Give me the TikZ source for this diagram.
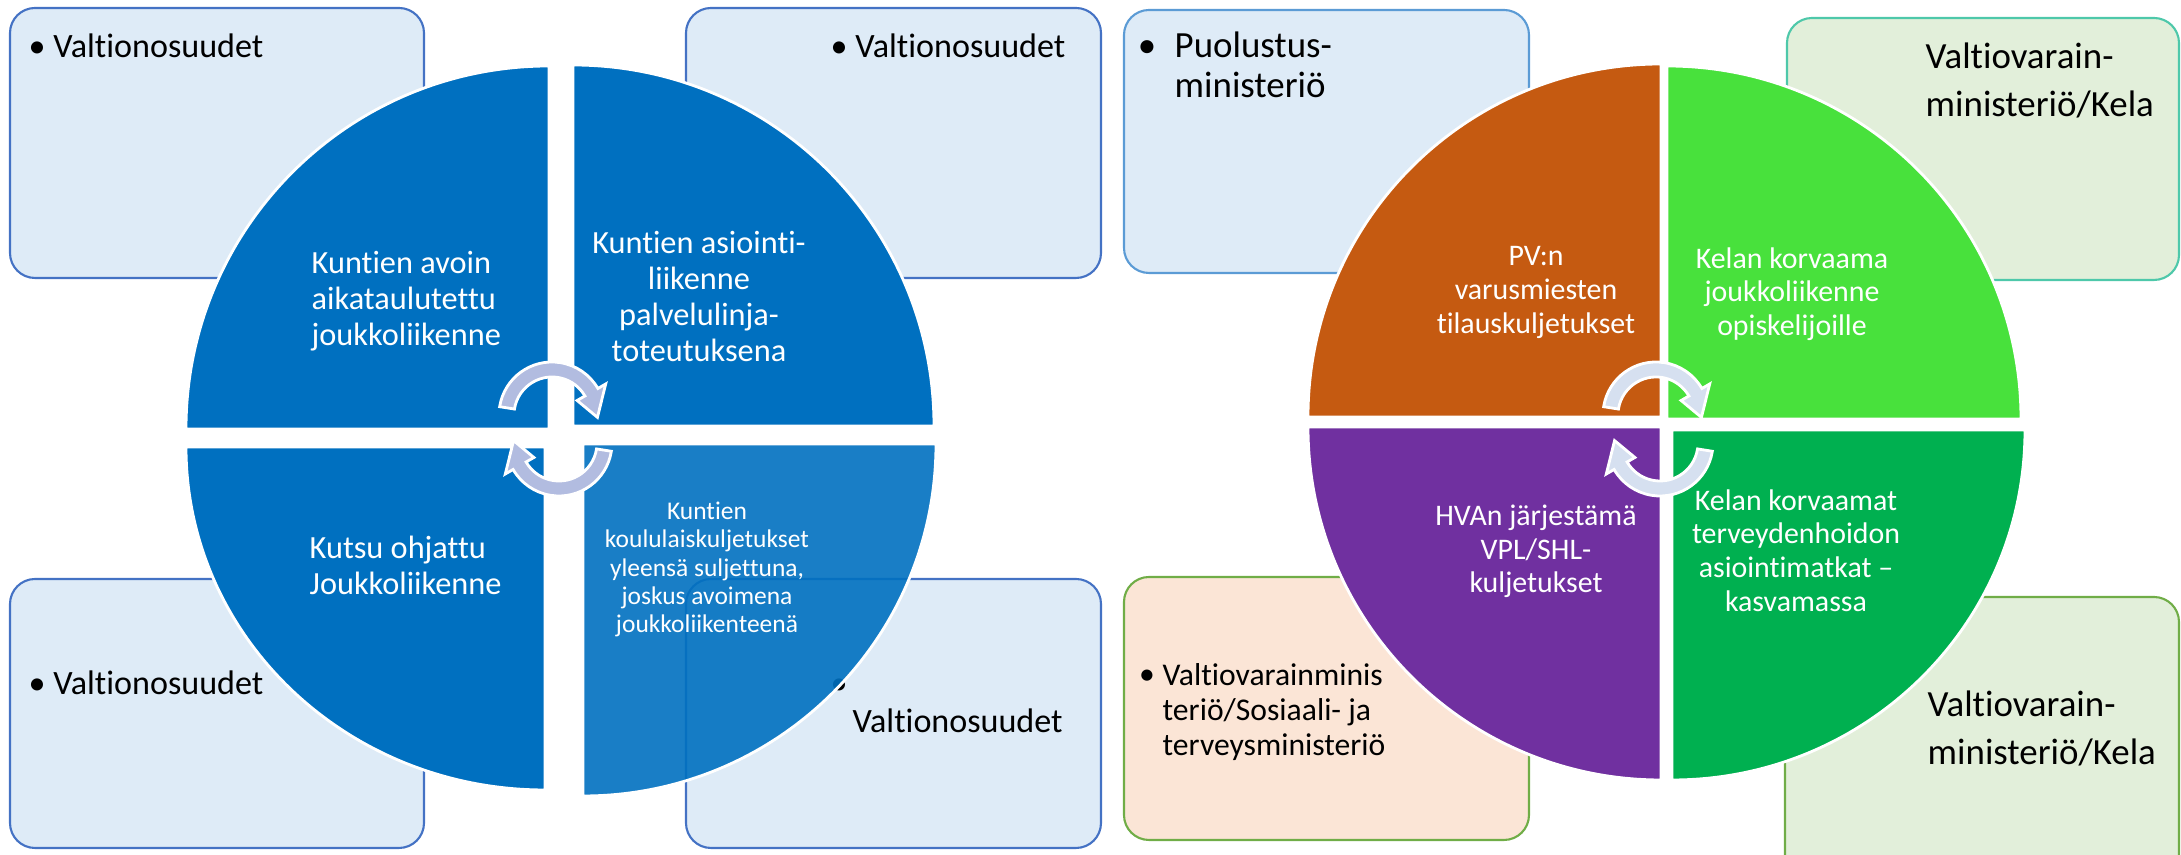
\documentclass[tikz,border=0pt]{standalone}
\usepackage{fontspec}
\setmainfont{Carlito}[Ligatures=NoCommon]

\tikzset{
  box/.style={rounded corners=0.25cm, line width=0.6pt},
  quad/.style={draw=white, line width=0.8pt},
  boxtext/.style={inner sep=0pt, font=\fontsize{9.7pt}{11pt}\selectfont},
  bigtext/.style={inner sep=0pt, align=left, font=\fontsize{10.5pt}{13.7pt}\selectfont},
  quadtext/.style={inner sep=0pt, text=white, align=center, font=\fontsize{8.5pt}{9.6pt}\selectfont},
  pics/turn/.style={code={
    \filldraw[fill=#1, draw=white, line width=0.8pt]
      (171:0.53) arc (171:30:0.53) -- (30:0.62) -- (-3:0.455) -- (30:0.29)
      -- (30:0.38) arc (30:171:0.38) -- cycle;
  }}
}

\begin{document}
\begin{tikzpicture}

% Define colors
\definecolor{boxblue}{RGB}{222,235,247}
\definecolor{edgeblue}{RGB}{68,114,196}
\definecolor{edgesky}{RGB}{91,155,213}
\definecolor{boxgreen}{RGB}{226,239,218}
\definecolor{edgeteal}{RGB}{78,200,170}
\definecolor{edgegreen}{RGB}{112,173,71}
\definecolor{boxpeach}{RGB}{251,229,214}
\definecolor{quadblue}{RGB}{0,112,192}
\definecolor{quadorange}{RGB}{197,90,17}
\definecolor{quadlime}{RGB}{72,225,60}
\definecolor{quadpurple}{RGB}{112,48,160}
\definecolor{quadgreen}{RGB}{0,176,80}
\definecolor{arrowblue}{RGB}{178,188,224}
\definecolor{arrowpale}{RGB}{214,224,240}

\useasboundingbox (0,0) rectangle (21.81,8.55);

% Boxes behind the left circle
\draw[box, fill=boxblue, draw=edgeblue] (0.10,5.77) rectangle (4.24,8.47);
\draw[box, fill=boxblue, draw=edgeblue] (6.86,5.77) rectangle (11.01,8.47);
\draw[box, fill=boxblue, draw=edgeblue] (0.10,0.07) rectangle (4.24,2.76);
\draw[box, fill=boxblue, draw=edgeblue] (6.86,0.07) rectangle (11.01,2.76);

% Boxes behind the right circle
\draw[box, fill=boxblue, draw=edgesky] (11.24,5.82) rectangle (15.29,8.45);
\draw[box, fill=boxgreen, draw=edgeteal] (17.87,5.75) rectangle (21.79,8.37);
\draw[box, fill=boxpeach, draw=edgegreen] (11.24,0.15) rectangle (15.29,2.78);
\draw[box, fill=boxgreen, draw=edgegreen] (17.85,-0.40) rectangle (21.79,2.58);

% Box texts
\node[boxtext, anchor=base west] (vos1) at (0.28,7.97) {•~Valtionosuudet};
\node[boxtext, anchor=base west] (vos2) at (8.30,7.97) {•~Valtionosuudet};
\node[boxtext, anchor=base west] (vos3) at (0.28,1.60) {•~Valtionosuudet};
\node[boxtext, anchor=base west] (dot4) at (8.30,1.60) {•};
\node[boxtext, anchor=base west] (vos4) at (8.52,1.22) {Valtionosuudet};

\node[bigtext, anchor=base] (dotpm) at (11.47,7.97) {•};
\node[bigtext, anchor=west, font=\fontsize{10.5pt}{11.4pt}\selectfont] (pm) at (11.74,7.90) {Puolustus-\\ministeriö};
\node[bigtext, anchor=west] (vmk1) at (19.25,7.745) {Valtiovarain-\\ministeriö/Kela};
\node[bigtext, anchor=west] (vmk2) at (19.27,1.265) {Valtiovarain-\\ministeriö/Kela};
\node[bigtext, anchor=base, font=\fontsize{9pt}{10pt}\selectfont] (dotst) at (11.47,1.70) {•};
\node[bigtext, anchor=west, font=\fontsize{9pt}{10pt}\selectfont] (stm) at (11.62,1.43) {Valtiovarainminis\\teriö/Sosiaali- ja\\terveysministeriö};

% Left circle
\filldraw[quad, fill=quadblue] (5.49,4.26) -- (1.86,4.26) arc (180:90:3.63) -- cycle;
\filldraw[quad, fill=quadblue] (5.73,4.29) -- (5.73,7.90) arc (90:0:3.61) -- cycle;
\filldraw[quad, fill=quadblue] (5.45,4.08) -- (1.86,4.08) arc (180:270:3.59 and 3.43) -- cycle;
\filldraw[quad, fill=quadblue, fill opacity=0.9] (5.83,4.11) -- (9.36,4.11) arc (0:-90:3.53 and 3.52) -- cycle;

% Right circle
\filldraw[quad, fill=quadorange] (16.61,4.38) -- (13.08,4.38) arc (180:90:3.53) -- cycle;
\filldraw[quad, fill=quadlime] (16.67,4.36) -- (16.67,7.89) arc (90:0:3.54 and 3.53) -- cycle;
\filldraw[quad, fill=quadpurple] (16.61,4.28) -- (13.08,4.28) arc (180:270:3.53) -- cycle;
\filldraw[quad, fill=quadgreen] (16.72,4.25) -- (20.25,4.25) arc (0:-90:3.53 and 3.50) -- cycle;

% Quadrant texts
\node[quadtext, align=left, anchor=west, font=\fontsize{9.2pt}{10.2pt}\selectfont] (avoin) at (3.11,5.54) {Kuntien avoin\\aikataulutettu\\joukkoliikenne};
\node[quadtext, font=\fontsize{9.2pt}{10.2pt}\selectfont] (asiointi) at (6.99,5.585) {Kuntien asiointi-\\liikenne\\palvelulinja-\\toteutuksena};
\node[quadtext, align=left, anchor=west, font=\fontsize{9.2pt}{10.2pt}\selectfont] (kutsu) at (3.09,2.895) {Kutsu ohjattu\\Joukkoliikenne};
\node[quadtext, font=\fontsize{7.25pt}{8pt}\selectfont] (koulu) at (7.07,2.855) {Kuntien\\koululaiskuljetukset\\yleensä suljettuna,\\joskus avoimena\\joukkoliikenteenä};

\node[quadtext] (pv) at (15.36,5.625) {PV:n\\varusmiesten\\tilauskuljetukset};
\node[quadtext] (opisk) at (17.92,5.61) {Kelan korvaama\\joukkoliikenne\\opiskelijoille};
\node[quadtext] (hva) at (15.36,3.035) {HVAn järjestämä\\VPL/SHL-\\kuljetukset};
\node[quadtext] (terv) at (17.96,3.045) {Kelan korvaamat\\terveydenhoidon\\asiointimatkat –\\kasvamassa};

% Turning arrows
\pic at (5.52,4.40) {turn=arrowblue};
\pic[rotate=180] at (5.59,4.12) {turn=arrowblue};
\pic at (16.56,4.40) {turn=arrowpale};
\pic[rotate=180] at (16.60,4.12) {turn=arrowpale};

\end{tikzpicture}
\end{document}
